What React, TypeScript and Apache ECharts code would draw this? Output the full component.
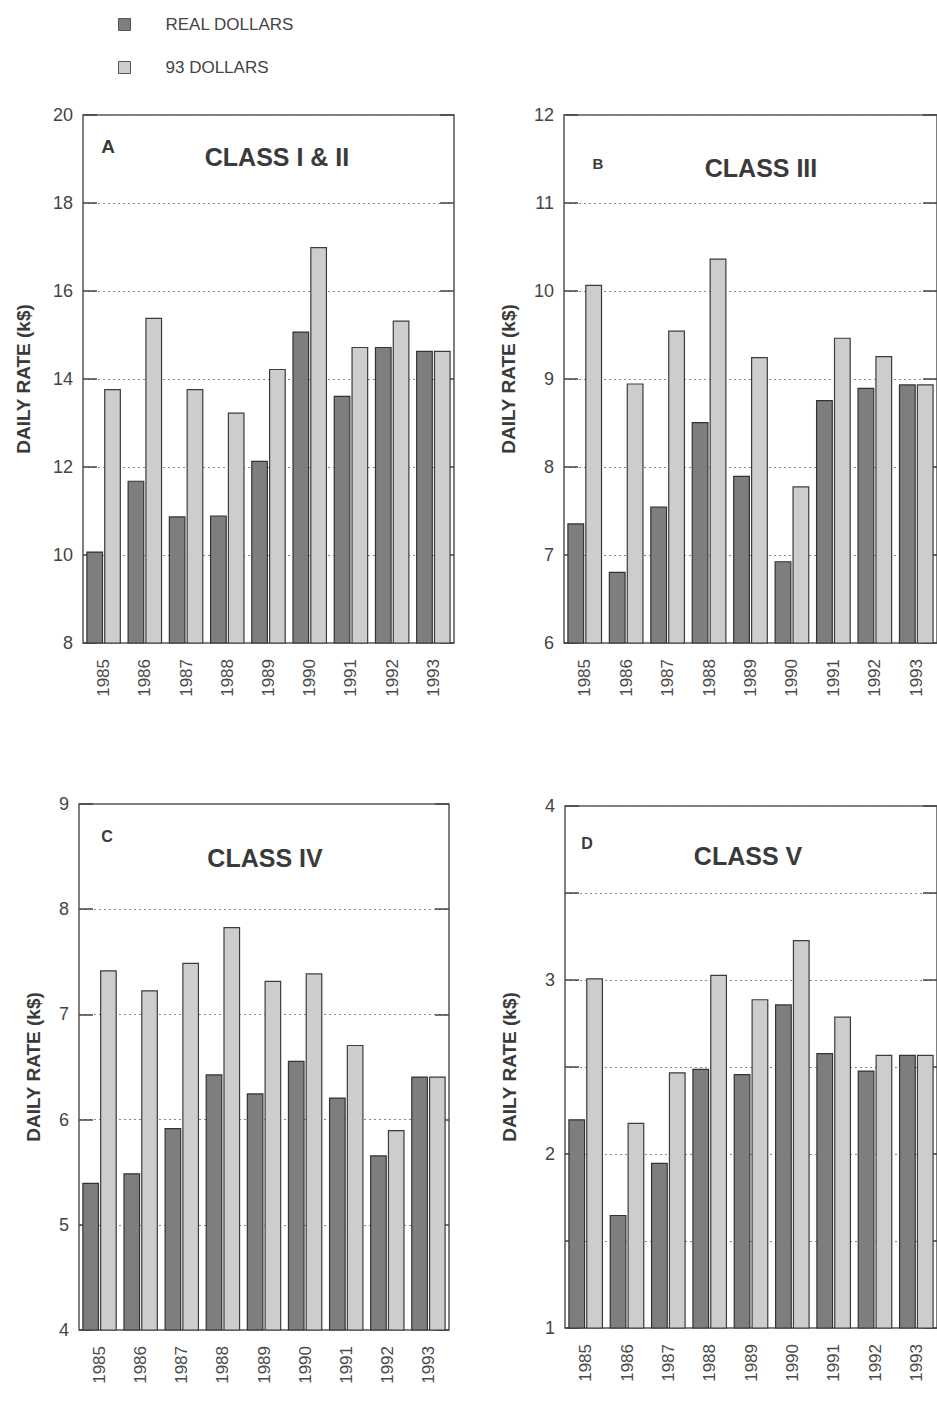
import React, { useEffect, useRef } from "react";
import * as echarts from "echarts";

const years = ["1985", "1986", "1987", "1988", "1989", "1990", "1991", "1992", "1993"];
const seriesNames = ["REAL DOLLARS", "93 DOLLARS"];

const classI_II_real = [10.08, 11.69, 10.88, 10.9, 12.14, 15.08, 13.62, 14.73, 14.64];
const classI_II_93 = [13.77, 15.39, 13.77, 13.24, 14.23, 17.0, 14.73, 15.33, 14.64];
const classIII_real = [7.36, 6.81, 7.55, 8.51, 7.9, 6.93, 8.76, 8.9, 8.94];
const classIII_93 = [10.07, 8.95, 9.55, 10.37, 9.25, 7.78, 9.47, 9.26, 8.94];
const classIV_real = [5.4, 5.49, 5.92, 6.43, 6.25, 6.56, 6.21, 5.66, 6.41];
const classIV_93 = [7.42, 7.23, 7.49, 7.83, 7.32, 7.39, 6.71, 5.9, 6.41];
const classV_real = [2.2, 1.65, 1.95, 2.49, 2.46, 2.86, 2.58, 2.48, 2.57];
const classV_93 = [3.01, 2.18, 2.47, 3.03, 2.89, 3.23, 2.79, 2.57, 2.57];

const panelTitles = ["CLASS I & II", "CLASS III", "CLASS IV", "CLASS V"];
const panelLetters = ["A", "B", "C", "D"];
const yAxisTitle = "DAILY RATE (k$)";

const FONT = "'Liberation Sans', Arial, Helvetica, sans-serif";
const DARK = "#7e7e7e";
const LIGHT = "#cdcdcd";

export default function App() {
  const ref = useRef<HTMLDivElement>(null);

  useEffect(() => {
    if (!ref.current) return;
    const chart = echarts.init(ref.current, undefined, { renderer: "svg" });

    const panels = [
      { grid: { left: 83, top: 115, width: 371, height: 528 }, min: 8, max: 20, interval: 2, real: classI_II_real, d93: classI_II_93, nameGap: 50 },
      { grid: { left: 564, top: 115, width: 376, height: 528 }, min: 6, max: 12, interval: 1, real: classIII_real, d93: classIII_93, nameGap: 46 },
      { grid: { left: 79, top: 804, width: 370, height: 526 }, min: 4, max: 9, interval: 1, real: classIV_real, d93: classIV_93, nameGap: 36 },
      { grid: { left: 565, top: 806, width: 375, height: 522 }, min: 1, max: 4, interval: 0.5, real: classV_real, d93: classV_93, nameGap: 46 },
    ];

    const grid: any[] = [];
    const xAxis: any[] = [];
    const yAxis: any[] = [];
    const series: any[] = [];

    panels.forEach((p, i) => {
      grid.push({
        ...p.grid,
        show: true,
        borderColor: "#555",
        borderWidth: 1.5,
        backgroundColor: "transparent",
        containLabel: false,
      });
      xAxis.push({
        type: "category",
        gridIndex: i,
        data: years,
        axisLine: { show: false },
        axisTick: { show: false },
        axisLabel: {
          rotate: 90,
          fontSize: 17,
          color: "#4a4a4a",
          margin: 16,
          fontFamily: FONT,
        },
      });
      yAxis.push({
        type: "value",
        gridIndex: i,
        min: p.min,
        max: p.max,
        interval: p.interval,
        position: "left",
        name: yAxisTitle,
        nameLocation: "middle",
        nameRotate: 90,
        nameGap: p.nameGap,
        nameTextStyle: { fontSize: 19, fontWeight: "bold", color: "#3a3a3a", fontFamily: FONT },
        axisLine: { show: false },
        axisTick: { show: true, inside: true, length: 14, lineStyle: { color: "#444", width: 1.5 } },
        axisLabel: {
          fontSize: 18,
          color: "#444",
          margin: 10,
          fontFamily: FONT,
          formatter: (v: number) => (Number.isInteger(v) ? String(v) : ""),
        },
        splitLine: { show: true, lineStyle: { color: "#888", type: [2, 3], width: 1 } },
      });
      yAxis.push({
        type: "value",
        gridIndex: i,
        min: p.min,
        max: p.max,
        interval: p.interval,
        position: "right",
        axisLine: { show: false },
        axisTick: { show: true, inside: true, length: 14, lineStyle: { color: "#444", width: 1.5 } },
        axisLabel: { show: false },
        splitLine: { show: false },
      });
      const yIdx = i * 2;
      series.push({
        type: "bar",
        name: seriesNames[0],
        xAxisIndex: i,
        yAxisIndex: yIdx,
        data: p.real,
        barCategoryGap: "16%",
        barGap: "6%",
        itemStyle: { color: DARK, borderColor: "#333", borderWidth: 1.2 },
      });
      series.push({
        type: "bar",
        name: seriesNames[1],
        xAxisIndex: i,
        yAxisIndex: yIdx,
        data: p.d93,
        barCategoryGap: "16%",
        barGap: "6%",
        itemStyle: { color: LIGHT, borderColor: "#3c3c3c", borderWidth: 1.2 },
      });
    });

    const textEl = (text: string, x: number, y: number, size: number, color = "#3a3a3a") => ({
      type: "text",
      x,
      y,
      z: 10,
      style: {
        text,
        fill: color,
        fontSize: size,
        fontWeight: "bold",
        fontFamily: FONT,
        textAlign: "center",
        textVerticalAlign: "middle",
      },
    });

    const graphic = [
      textEl(panelLetters[0], 108, 146, 19),
      textEl(panelTitles[0], 277, 157, 25),
      textEl(panelLetters[1], 598, 163, 15),
      textEl(panelTitles[1], 761, 168, 25),
      textEl(panelLetters[2], 107, 836, 16),
      textEl(panelTitles[2], 265, 858, 25),
      textEl(panelLetters[3], 587, 843, 16),
      textEl(panelTitles[3], 748, 856, 25),
    ];

    chart.setOption({
      animation: false,
      textStyle: { fontFamily: FONT },
      legend: {
        data: seriesNames,
        orient: "vertical",
        left: 113,
        top: 11,
        itemWidth: 12,
        itemHeight: 12,
        itemGap: 26,
        icon: "rect",
        selectedMode: false,
        itemStyle: { borderColor: "#555", borderWidth: 1 },
        formatter: "{a|{name}}",
        textStyle: {
          rich: {
            a: { fontSize: 17, color: "#444", fontFamily: FONT, padding: [0, 0, 0, 30], lineHeight: 18 },
          },
        },
      },
      grid,
      xAxis,
      yAxis,
      series,
      graphic,
    });

    return () => chart.dispose();
  }, []);

  return (
    <div
      ref={ref}
      style={{ position: "absolute", left: 0, top: 0, width: 937, height: 1402, background: "#fff" }}
    />
  );
}
